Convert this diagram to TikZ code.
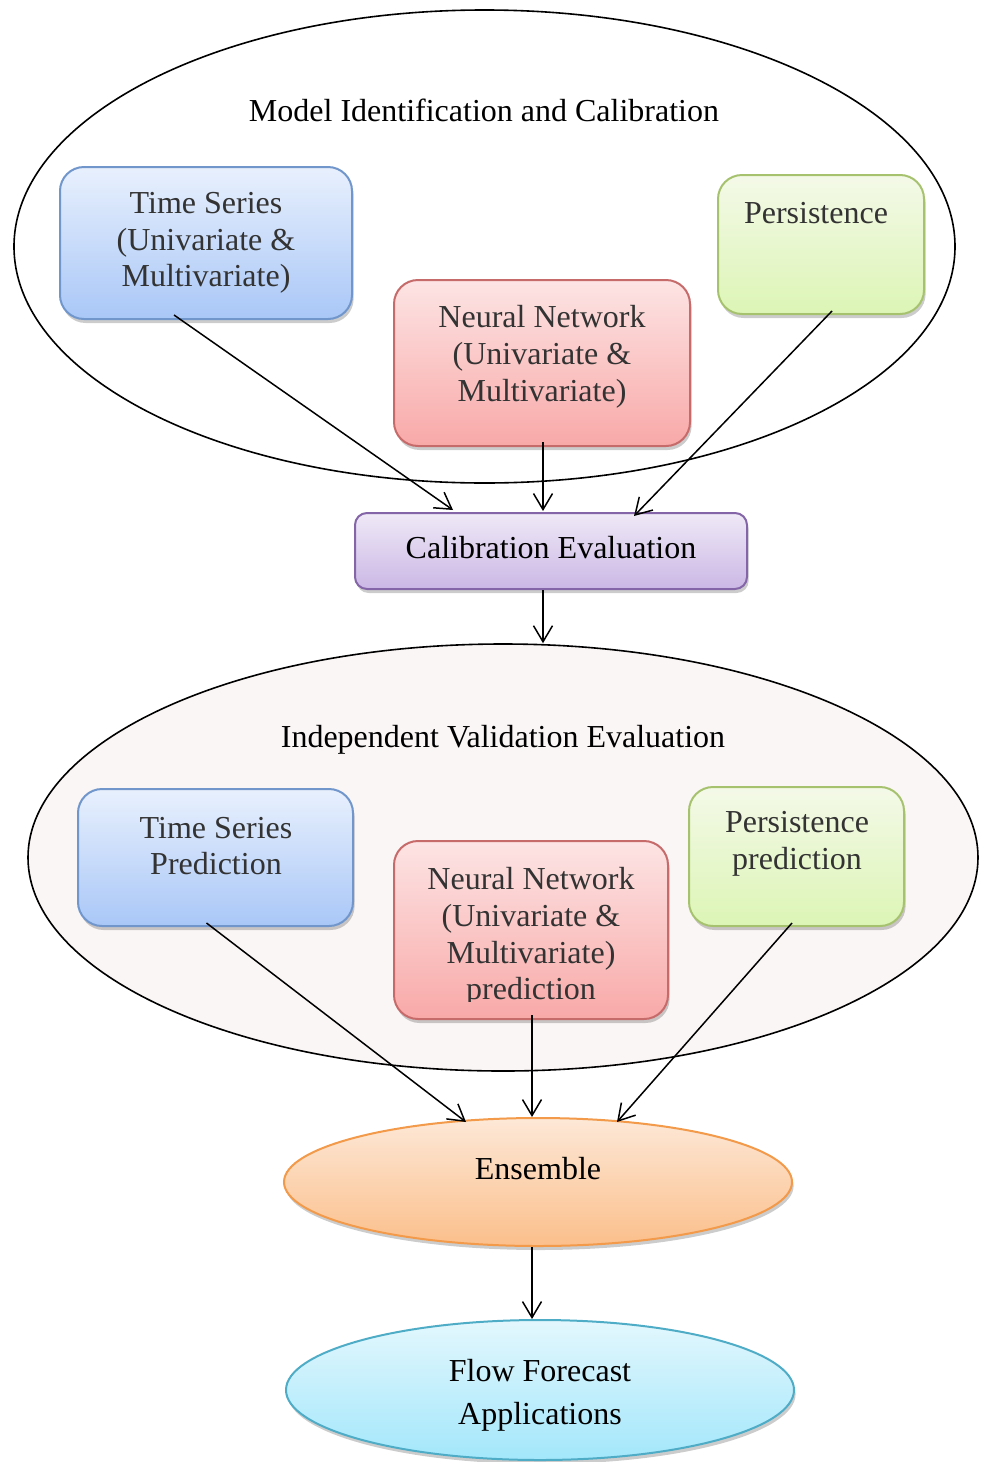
\documentclass[tikz,border=0pt]{standalone}
\usepackage{fontspec}
\setmainfont{Liberation Serif}
\usetikzlibrary{shapes.geometric,arrows.meta,shadows,calc}
\definecolor{tsB}{HTML}{7096CC}\definecolor{tsT}{HTML}{E8F0FD}\definecolor{tsD}{HTML}{A9C7F7}
\definecolor{nnB}{HTML}{C66A6A}\definecolor{nnT}{HTML}{FDE4E4}\definecolor{nnD}{HTML}{F8A9A8}
\definecolor{peB}{HTML}{A7C26F}\definecolor{peT}{HTML}{F4F9E8}\definecolor{peD}{HTML}{DCF5B5}
\definecolor{caB}{HTML}{8466A8}\definecolor{caT}{HTML}{EFE9F7}\definecolor{caD}{HTML}{CBB7E5}
\definecolor{enB}{HTML}{F29A4A}\definecolor{enT}{HTML}{FDE8D7}\definecolor{enD}{HTML}{FBBF8B}
\definecolor{flB}{HTML}{4FACC6}\definecolor{flT}{HTML}{E3F7FD}\definecolor{flD}{HTML}{A3E7FB}
\definecolor{valF}{HTML}{FAF6F5}
\definecolor{txtgray}{HTML}{333333}
\begin{document}
\begin{tikzpicture}[x=0.5pt,y=-0.5pt,
  shad/.style={drop shadow={shadow xshift=0.8pt,shadow yshift=-2pt,opacity=0.2,fill=black}},
  rbox/.style n args={3}{rectangle,rounded corners=12pt,draw=#1,line width=1pt,top color=#2,bottom color=#3,inner sep=0pt,shad},
  bigell/.style={ellipse,draw=black,line width=0.8pt,inner sep=0pt},
  sell/.style n args={3}{ellipse,draw=#1,line width=1pt,top color=#2,bottom color=#3,inner sep=0pt,shad},
  txt/.style={align=center,font=\fontsize{16}{18.4}\selectfont,text=txtgray,inner sep=0pt},
  ttl/.style={align=center,font=\fontsize{16}{18.4}\selectfont,text=black,inner sep=0pt},
  arr/.style={-{Straight Barb[length=8pt,width=9.5pt]},line width=0.75pt}]
\useasboundingbox (0,0) rectangle (981,1462);
% upper group
\node[bigell,fill=white,minimum width=470.5pt,minimum height=236.5pt] (mic) at (484.5,246.5) {};
\node[ttl] (micT) at (484,110) {Model Identification and Calibration};
\node[rbox={tsB}{tsT}{tsD},minimum width=146pt,minimum height=76pt] (ts1) at (206,243) {};
\node[txt] (ts1t) at (206,243) {Time Series\\(Univariate \&\\Multivariate)};
\node[rbox={nnB}{nnT}{nnD},minimum width=148pt,minimum height=83pt] (nn1) at (542,363) {};
\node[txt] (nn1t) at (542,357) {Neural Network\\(Univariate \&\\Multivariate)};
\node[rbox={peB}{peT}{peD},minimum width=103pt,minimum height=69.5pt] (pe1) at (821,244.5) {};
\node[txt] (pe1t) at (816,213) {Persistence};
% calibration
\node[rbox={caB}{caT}{caD},rounded corners=6pt,minimum width=196pt,minimum height=38pt] (cal) at (551,551) {};
\node[ttl] (calt) at (551,548) {Calibration Evaluation};
% validation group
\node[bigell,fill=valF,minimum width=475pt,minimum height=213.5pt] (val) at (503,857.5) {};
\node[ttl] (valT) at (503,740) {Independent Validation Evaluation};
\node[rbox={tsB}{tsT}{tsD},minimum width=137.5pt,minimum height=68.5pt] (ts2) at (215.5,857.5) {};
\node[txt] (ts2t) at (216,846) {Time Series\\Prediction};
\node[rbox={nnB}{nnT}{nnD},minimum width=137pt,minimum height=89pt] (nn2) at (531,930) {};
\begin{scope}
\clip (400,845) rectangle (662,1001);
\node[txt] (nn2t) at (531,937) {Neural Network\\(Univariate \&\\Multivariate)\\prediction};
\end{scope}
\node[rbox={peB}{peT}{peD},minimum width=107.5pt,minimum height=69.5pt] (pe2) at (796.5,856.5) {};
\node[txt] (pe2t) at (797,844) {Persistence\\prediction};
% ensemble and flow
\node[sell={enB}{enT}{enD},minimum width=254pt,minimum height=64pt] (ens) at (538,1182) {};
\node[ttl] (enst) at (538,1169) {Ensemble};
\node[sell={flB}{flT}{flD},minimum width=254pt,minimum height=70pt] (flow) at (540,1390) {};
\node[ttl,font=\fontsize{16}{21.5}\selectfont] (flowt) at (540,1395) {Flow Forecast\\Applications};
% connectors
\draw[arr] ($(ts1.south)+(-32,-5)$) -- ($(cal.north)+(-98,-2)$);
\draw[arr] ($(nn1.south)+(1,-5)$) -- ($(cal.north)+(-8,-1)$);
\draw[arr] ($(pe1.south)+(11,-4)$) -- ($(cal.north)+(83,4)$);
\draw[arr] ($(cal.south)+(-8,0)$) -- ($(val.north)+(40,0)$);
\draw[arr] ($(ts2.south)+(-9,-4)$) -- ($(ens.north)+(-72,5)$);
\draw[arr] ($(nn2.south)+(1,-5)$) -- ($(ens.north)+(-6,0)$);
\draw[arr] ($(pe2.south)+(-4.5,-4)$) -- ($(ens.north)+(79,5)$);
\draw[arr] ($(ens.south)+(-6,0)$) -- ($(flow.north)+(-8,0)$);
\end{tikzpicture}
\end{document}
